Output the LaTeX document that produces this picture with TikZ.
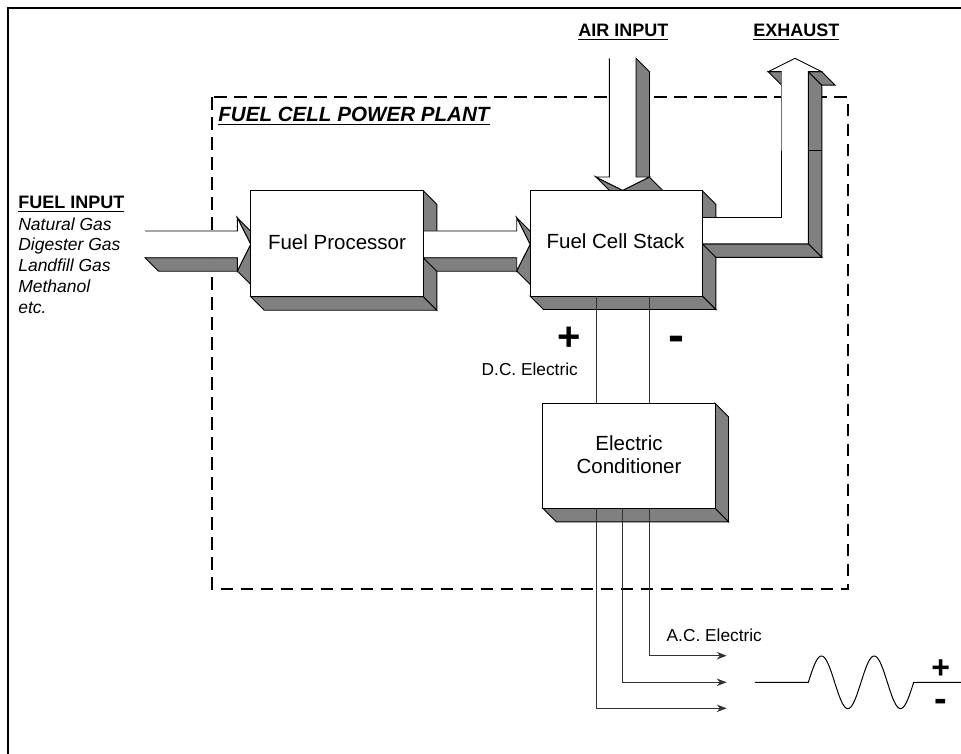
\documentclass[tikz,border=0pt]{standalone}
\usepackage{fontspec}
\setmainfont{Liberation Sans}
\usetikzlibrary{arrows.meta,calc}
\definecolor{shade}{RGB}{128,128,128}
\newcommand\myfs[2]{\fontsize{#1}{#2}\selectfont}
\newcommand\boxfaces[1]{%
  \draw[face] (#1.north east) -- ++(13.5,13.5) -- ($(#1.south east)+(13.5,13.5)$) -- (#1.south east) -- cycle;
  \draw[face] (#1.south west) -- (#1.south east) -- ++(13.5,13.5) -- ($(#1.south west)+(13.5,13.5)$) -- cycle;}
\newcommand\boxfront[1]{\draw[edge,fill=white] (#1.south west) rectangle (#1.north east);}
\begin{document}
\begin{tikzpicture}[x=1pt,y=-1pt,
  face/.style={fill=shade,draw=black,line width=0.9pt,line join=miter},
  edge/.style={draw=black,line width=0.9pt,line join=miter},
  wire/.style={draw=black!80,line width=1pt},
  slot/.style={inner sep=0pt,outer sep=0pt,draw=none},
  lbl/.style={inner sep=0pt,outer sep=0pt,anchor=base west},
  boxtext/.style={inner sep=0pt,outer sep=0pt,anchor=base,font=\myfs{20.5}{23.5}},
  small/.style={lbl,font=\myfs{17.3}{21}},
  gas/.style={lbl,font=\itshape\myfs{17.5}{21}},
  head/.style={lbl,font=\bfseries\myfs{18}{20}},
  sign/.style={inner sep=0pt,outer sep=0pt,anchor=base},
  uline/.style={line width=1.4pt},
  tip/.style={-{Stealth[length=10pt,width=7.5pt]}}]
\useasboundingbox (0,0) rectangle (961,754);
\fill[white] (0,0) rectangle (961,754);
% outer frame (right and bottom edges fall outside the picture)
\draw[line width=2pt] (8,8) rectangle (975,770);
% power plant boundary
\draw[line width=2pt,dash pattern=on 12.5pt off 7.5pt] (212,97.3) rectangle (848,588.7);

% box slots
\path node[slot,minimum width=172.6pt,minimum height=106pt] (fp) at (337,243.7) {};
\path node[slot,minimum width=172.3pt,minimum height=105.3pt] (fcs) at (616.15,243.35) {};
\path node[slot,minimum width=172.3pt,minimum height=105pt] (ec) at (628.85,455.8) {};

% fuel input arrow
\draw[face] (145,257.7) -- (237.3,257.7) -- (250.8,271.2) -- (158.5,271.2) -- cycle;
\draw[face] (237.3,217.7) -- (250.7,244.35) -- (264.2,257.85) -- (250.8,231.2) -- cycle;
\draw[face] (250.7,244.35) -- (237.3,271) -- (250.8,284.5) -- (264.2,257.85) -- cycle;
\fill[white] (145,231) -- (237.3,231) -- (237.3,217.7) -- (250.7,244.35) -- (237.3,271) -- (237.3,257.7) -- (145,257.7) -- cycle;
\draw[edge] (145,257.7) -- (237.3,257.7) -- (237.3,271) -- (250.7,244.35) -- (237.3,217.7) -- (237.3,231) -- (145,231);

% fuel processor depth
\boxfaces{fp}

% arrow fuel processor -> stack
\draw[face] (423.3,257.7) -- (516.7,257.7) -- (530.2,271.2) -- (436.8,271.2) -- cycle;
\draw[face] (516.7,217.7) -- (530.1,244.35) -- (543.6,257.85) -- (530.2,231.2) -- cycle;
\draw[face] (530.1,244.35) -- (516.7,271) -- (530.2,284.5) -- (543.6,257.85) -- cycle;
\fill[white] (423.3,231) -- (516.7,231) -- (516.7,217.7) -- (530.1,244.35) -- (516.7,271) -- (516.7,257.7) -- (423.3,257.7) -- cycle;
\draw[edge] (423.3,257.7) -- (516.7,257.7) -- (516.7,271) -- (530.1,244.35) -- (516.7,217.7) -- (516.7,231) -- (423.3,231);

\boxfront{fp}
\node[boxtext] (fptxt) at (337,250) {Fuel Processor};

% air input arrow
\draw[face] (636,58.3) -- (649.5,71.8) -- (649.5,190.5) -- (636,177) -- cycle;
\draw[face] (649.3,177) -- (662.8,190.5) -- (636.15,203.9) -- (622.65,190.4) -- cycle;
\draw[face] (596,177) -- (622.65,190.4) -- (636.15,203.9) -- (609.5,190.5) -- cycle;
\fill[white] (609.3,58.3) -- (609.3,177) -- (596,177) -- (622.65,190.4) -- (649.3,177) -- (636,177) -- (636,58.3) -- cycle;
\draw[edge] (609.3,58.3) -- (609.3,177) -- (596,177) -- (622.65,190.4) -- (649.3,177) -- (636,177) -- (636,58.3);

% fuel cell stack depth
\boxfaces{fcs}

% exhaust arrow
\draw[face] (768.3,71.7) -- (781.7,71.7) -- (795.2,85.2) -- (781.8,85.2) -- cycle;
\draw[face] (808.3,71.7) -- (821.7,71.7) -- (835.2,85.2) -- (821.8,85.2) -- cycle;
\draw[face] (808.3,71.7) -- (821.8,85.2) -- (821.8,257.3) -- (808.3,243.8) -- cycle;
\draw[face] (702.3,243.8) -- (808.3,243.8) -- (821.8,257.3) -- (715.8,257.3) -- cycle;
\draw[edge] (808.3,150.7) -- (821.8,150.7);
\fill[white] (702.3,217.3) -- (781.7,217.3) -- (781.7,71.7) -- (768.3,71.7) -- (795,58.3) -- (821.7,71.7) -- (808.3,71.7) -- (808.3,243.8) -- (702.3,243.8) -- cycle;
\draw[edge] (702.3,217.3) -- (781.7,217.3) -- (781.7,150.7);
\draw[edge,draw=black!55] (781.7,150.7) -- (781.7,71.7);
\draw[edge] (781.7,71.7) -- (768.3,71.7) -- (795,58.3) -- (821.7,71.7) -- (808.3,71.7) -- (808.3,243.8) -- (702.3,243.8);

\boxfront{fcs}
\node[boxtext] (fcstxt) at (615.5,248.3) {Fuel Cell Stack};

% D.C. connectors
\coordinate (dcp) at (596.2,0);
\coordinate (dcm) at (649,0);
\draw[wire] (fcs.south -| dcp) -- (ec.north -| dcp);
\draw[wire] (fcs.south -| dcm) -- (ec.north -| dcm);

% electric conditioner
\boxfaces{ec}
\boxfront{ec}
\node[boxtext] (ectxt1) at (629,450) {Electric};
\node[boxtext] (ectxt2) at (629,473.3) {Conditioner};

% A.C. outputs
\coordinate (o1) at (649.3,0);
\coordinate (o2) at (622.3,0);
\coordinate (o3) at (596,0);
\coordinate (a1) at (726.7,655.7);
\coordinate (a2) at (726.7,682.3);
\coordinate (a3) at (726.7,708.3);
\draw[wire,tip] (ec.south -| o1) |- (a1);
\draw[wire,tip] (ec.south -| o2) |- (a2);
\draw[wire,tip] (ec.south -| o3) |- (a3);

% sine wave
\draw[line width=1pt,black] (755,682.3) -- (808.3,682.3)
  -- plot[domain=0:105.4,samples=140,smooth] ({808.3+\x},{682.3-26.3*sin(\x/52.7*360)})
  -- (965,682.3);

% labels
\node[head] (fuelin) at (18.3,208.3) {FUEL INPUT};
\draw[uline] ([yshift=-3pt]fuelin.base west) -- ([yshift=-3pt]fuelin.base east);
\node[gas] (g1) at (18.3,230) {Natural Gas};
\node[gas] (g2) at (18.3,250.8) {Digester Gas};
\node[gas] (g3) at (18.3,271.6) {Landfill Gas};
\node[gas] (g4) at (18.3,292.4) {Methanol};
\node[gas] (g5) at (18.3,313.2) {etc.};

\node[head] (airin) at (578.3,36.7) {AIR INPUT};
\draw[uline] ([yshift=-3pt]airin.base west) -- ([yshift=-3pt]airin.base east);
\node[head] (exh) at (753.3,36.7) {EXHAUST};
\draw[uline] ([yshift=-3pt]exh.base west) -- ([yshift=-3pt]exh.base east);

\node[lbl,font=\bfseries\itshape\myfs{20.6}{22}] (fcpp) at (218.3,121.5) {FUEL CELL POWER PLANT};
\draw[line width=1.8pt] ([yshift=-3pt]fcpp.base west) -- ([yshift=-3pt]fcpp.base east);

\node[small] (dc) at (481.7,375) {D.C. Electric};
\node[small] (ac) at (666.7,641) {A.C. Electric};

\node[sign,font=\bfseries\myfs{40}{40}] (dcplus) at (569,350) {+};
\node[sign,font=\bfseries\myfs{48}{48}] (dcminus) at (676.3,351.5) {-};
\node[sign,font=\bfseries\myfs{32}{32}] (acplus) at (940.8,678.4) {+};
\node[sign,font=\bfseries\myfs{38}{38}] (acminus) at (941,711.5) {-};
\end{tikzpicture}
\end{document}
